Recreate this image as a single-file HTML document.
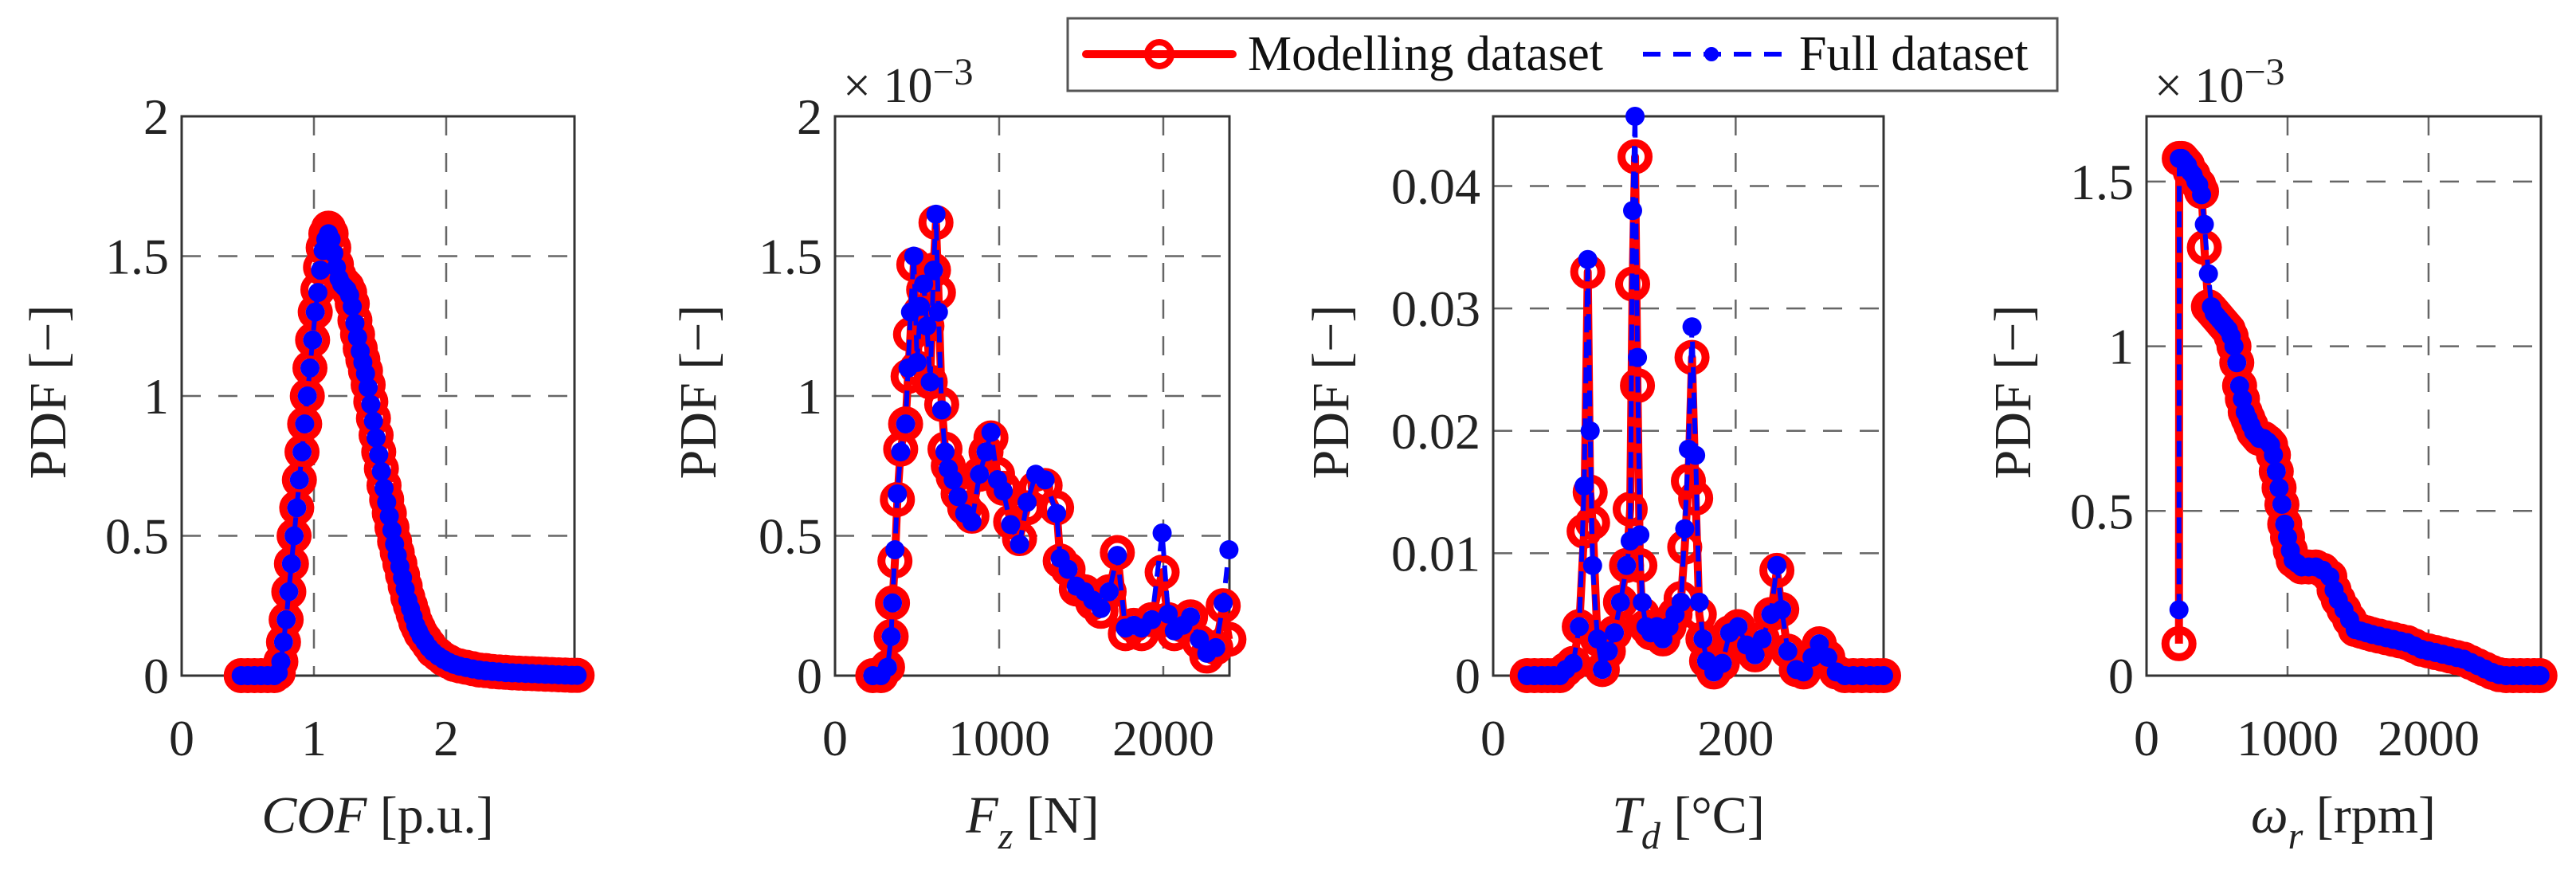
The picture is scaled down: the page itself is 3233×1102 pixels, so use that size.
<!DOCTYPE html>
<html><head><meta charset="utf-8"><style>
html,body{margin:0;padding:0;background:#fff;}
svg{display:block;}
text{font-family:"Liberation Serif","DejaVu Serif",serif;}
</style></head><body>
<svg id="fig" width="3233" height="1102" viewBox="0 0 3233 1102" xmlns="http://www.w3.org/2000/svg" font-family="Liberation Serif, DejaVu Serif, serif">
<rect x="0" y="0" width="3233" height="1102" fill="#fff"/>
<g id="legend">
  <rect x="1340" y="23" width="1242" height="91" fill="#fff" stroke="#555" stroke-width="3"/>
  <g>
    <line x1="1363" y1="68" x2="1547" y2="68" stroke="#f00" stroke-width="10" stroke-linecap="round"/>
    <circle cx="1455" cy="68" r="15" fill="none" stroke="#f00" stroke-width="8"/>
    <text x="1566" y="88" font-size="62" fill="#111" font-family="Liberation Serif, serif">Modelling dataset</text>
  </g>
  <g>
    <line x1="2062" y1="68" x2="2236" y2="68" stroke="#00f" stroke-width="6" stroke-dasharray="22,16"/>
    <circle cx="2148" cy="68" r="9" fill="#00f"/>
    <text x="2258" y="88" font-size="62" fill="#111" font-family="Liberation Serif, serif">Full dataset</text>
  </g>
</g>
</svg>
<script>
// Panel 1: COF
const cofX = [0.45,0.5,0.55,0.6,0.65,0.7,0.73,0.75,0.77,0.79,0.81,0.83,0.85,0.87,0.89,0.91,0.93,0.95,0.97,0.99,1.01,1.03,1.05,1.07,1.09,1.11,1.13,1.15,1.17,1.19,1.21,1.23,1.25,1.27,1.29,1.31,1.33,1.35,1.37,1.39,1.41,1.43,1.45,1.47,1.49,1.51,1.53,1.55,1.57,1.59,1.61,1.63,1.65,1.67,1.69,1.71,1.73,1.75,1.77,1.79,1.81,1.84,1.87,1.9,1.94,1.98,2.02,2.06,2.1,2.15,2.2,2.25,2.3,2.35,2.4,2.45,2.5,2.55,2.6,2.65,2.7,2.75,2.8,2.85,2.9,2.95,2.99];
const cofModel = [0,0,0,0,0,0,0.01,0.05,0.12,0.2,0.3,0.4,0.5,0.6,0.7,0.8,0.9,1.0,1.1,1.2,1.3,1.38,1.46,1.53,1.58,1.6,1.58,1.53,1.47,1.43,1.41,1.4,1.39,1.37,1.33,1.27,1.22,1.17,1.13,1.09,1.04,0.98,0.92,0.86,0.8,0.74,0.68,0.63,0.58,0.53,0.48,0.44,0.4,0.36,0.32,0.28,0.25,0.22,0.19,0.17,0.15,0.13,0.11,0.09,0.075,0.06,0.05,0.04,0.035,0.03,0.025,0.02,0.018,0.015,0.013,0.012,0.01,0.009,0.008,0.007,0.006,0.005,0.004,0.003,0.002,0.001,0.001];
const cofFull = [0,0,0,0,0,0,0.01,0.05,0.12,0.2,0.3,0.4,0.5,0.6,0.7,0.8,0.9,1.0,1.1,1.2,1.3,1.37,1.45,1.52,1.56,1.58,1.56,1.51,1.46,1.42,1.4,1.39,1.38,1.36,1.32,1.26,1.21,1.16,1.12,1.08,1.03,0.97,0.91,0.85,0.79,0.73,0.67,0.62,0.57,0.52,0.47,0.43,0.39,0.35,0.31,0.27,0.24,0.21,0.18,0.16,0.14,0.12,0.1,0.085,0.07,0.058,0.048,0.04,0.034,0.029,0.024,0.02,0.017,0.015,0.013,0.011,0.01,0.009,0.008,0.007,0.006,0.005,0.004,0.003,0.002,0.001,0.001];
const cofXTicks = [0,1,2];
const cofYTicks = [0,0.5,1,1.5,2];
const cofYLabels = ["0","0.5","1","1.5","2"];
// Panel 2: Fz (x1e-3)
const fzX = [230,280,320,342,350,365,380,400,430,445,460,480,500,520,540,560,580,600,615,630,650,670,690,720,750,790,834,880,920,950,990,1025,1070,1124,1170,1223,1280,1350,1372,1420,1470,1521,1570,1620,1670,1720,1769,1820,1868,1930,1993,2030,2067,2120,2166,2220,2265,2320,2365,2400];
const fzModel = [0,0,0.03,0.14,0.26,0.41,0.63,0.81,0.9,1.07,1.22,1.47,1.1,1.3,1.38,1.25,1.05,1.45,1.62,1.37,0.97,0.81,0.75,0.71,0.65,0.6,0.57,0.72,0.8,0.85,0.72,0.67,0.55,0.49,0.6,0.67,0.68,0.6,0.41,0.38,0.31,0.3,0.26,0.23,0.3,0.44,0.15,0.18,0.15,0.2,0.37,0.2,0.15,0.18,0.21,0.12,0.07,0.1,0.25,0.13];
const fzFull = [0,0,0.03,0.14,0.26,0.45,0.65,0.8,0.9,1.1,1.3,1.5,1.12,1.32,1.4,1.25,1.05,1.45,1.65,1.3,0.95,0.8,0.74,0.7,0.64,0.58,0.55,0.72,0.8,0.87,0.7,0.66,0.54,0.47,0.62,0.72,0.7,0.58,0.42,0.38,0.32,0.3,0.27,0.24,0.3,0.43,0.17,0.18,0.17,0.2,0.51,0.22,0.16,0.18,0.21,0.13,0.08,0.1,0.26,0.45];
const fzXTicks = [0,1000,2000];
const fzYTicks = [0,0.5,1,1.5,2];
const fzYLabels = ["0","0.5","1","1.5","2"];
// Panel 3: Td
const tdX = [28,34,40,45,50,55,60,66,71,75,78,80,82,86,90,95,100,105,110,113,115,117,119,121,123,126,130,135,140,145,150,155,158,161,164,167,170,173,176,182,189,195,202,209,216,222,229,234,238,243,250,256,263,269,276,283,290,297,304,311,317,322];
const tdModel = [0,0,0,0,0,0,0.0005,0.001,0.004,0.0118,0.033,0.015,0.0125,0.003,0.0005,0.002,0.0035,0.006,0.009,0.0136,0.032,0.0424,0.0237,0.009,0.005,0.004,0.0035,0.004,0.003,0.004,0.005,0.0063,0.0105,0.0159,0.026,0.0145,0.005,0.003,0.0012,0.0003,0.001,0.0035,0.004,0.0025,0.0017,0.003,0.005,0.0086,0.0054,0.002,0.0005,0.0003,0.0015,0.0026,0.0015,0.0003,0,0,0,0,0,0];
const tdFull = [0,0,0,0,0,0,0.0005,0.001,0.004,0.0155,0.034,0.02,0.009,0.003,0.0005,0.002,0.0035,0.006,0.009,0.011,0.038,0.0457,0.026,0.0115,0.006,0.004,0.0035,0.004,0.003,0.004,0.005,0.006,0.012,0.0185,0.0285,0.018,0.006,0.003,0.0012,0.0003,0.001,0.0035,0.004,0.0025,0.0017,0.003,0.005,0.009,0.0054,0.002,0.0005,0.0003,0.0015,0.0026,0.0015,0.0003,0,0,0,0,0,0];
const tdXTicks = [0,200];
const tdYTicks = [0,0.01,0.02,0.03,0.04];
const tdYLabels = ["0","0.01","0.02","0.03","0.04"];
// Panel 4: omega_r (x1e-3)
const wrX = [230,232,250,270,290,310,330,350,370,390,410,439,460,480,500,520,540,560,580,600,620,640,660,680,700,720,740,760,780,800,830,860,880,900,920,940,960,980,1000,1020,1040,1070,1100,1150,1200,1250,1300,1330,1360,1400,1440,1480,1520,1560,1600,1650,1700,1750,1800,1850,1900,1950,2000,2050,2100,2150,2200,2250,2300,2350,2400,2450,2500,2550,2600,2650,2700,2750,2790];
const wrModel = [0.097,1.57,1.57,1.56,1.55,1.53,1.52,1.5,1.49,1.47,1.3,1.12,1.11,1.1,1.09,1.08,1.07,1.06,1.05,1.03,1.0,0.95,0.88,0.84,0.8,0.78,0.76,0.74,0.73,0.72,0.72,0.71,0.7,0.67,0.62,0.57,0.52,0.46,0.42,0.38,0.35,0.34,0.33,0.33,0.33,0.32,0.3,0.26,0.23,0.2,0.17,0.14,0.135,0.13,0.125,0.12,0.115,0.11,0.105,0.1,0.09,0.08,0.075,0.07,0.065,0.06,0.055,0.05,0.04,0.03,0.02,0.01,0.003,0,0,0,0,0,0];
const wrFull = [0.2,1.57,1.57,1.56,1.55,1.53,1.52,1.5,1.49,1.46,1.37,1.22,1.12,1.1,1.09,1.08,1.07,1.06,1.05,1.03,1.0,0.95,0.88,0.84,0.8,0.78,0.76,0.74,0.73,0.72,0.72,0.71,0.7,0.67,0.62,0.57,0.52,0.46,0.42,0.38,0.35,0.34,0.33,0.33,0.33,0.32,0.3,0.26,0.23,0.2,0.17,0.14,0.135,0.13,0.125,0.12,0.115,0.11,0.105,0.1,0.09,0.08,0.075,0.07,0.065,0.06,0.055,0.05,0.04,0.03,0.02,0.01,0.003,0,0,0,0,0,0];
const wrXTicks = [0,1000,2000];
const wrYTicks = [0,0.5,1,1.5];
const wrYLabels = ["0","0.5","1","1.5"];

const NS = "http://www.w3.org/2000/svg";
const FONT = "Liberation Serif, DejaVu Serif, serif";
const svg = document.getElementById('fig');
const legend = document.getElementById('legend');
function mk(tag, attrs, parent){
  const e = document.createElementNS(NS, tag);
  for (const k in attrs) e.setAttribute(k, attrs[k]);
  if (tag === 'text') e.setAttribute('font-family', FONT);
  if (parent) parent.appendChild(e); else svg.insertBefore(e, legend);
  return e;
}
const TOP = 146, BOT = 848;
function panel(cfg){
  const g = mk('g', {});
  
  
  const sx = v => cfg.L + (v - cfg.xmin) / (cfg.xmax - cfg.xmin) * (cfg.R - cfg.L);
  const sy = v => BOT - v / cfg.ymax * (BOT - TOP);
  cfg.xt.forEach(t => {
    const x = sx(t);
    if (x > cfg.L + 3 && x < cfg.R - 3) {
      const l = mk('line', {x1:x, y1:TOP, x2:x, y2:BOT, stroke:'#666', 'stroke-width':2.5, 'stroke-dasharray':'24,22'}, g);
      
      
    }
  });
  cfg.yt.forEach(t => {
    const y = sy(t);
    if (y > TOP + 3 && y < BOT - 3) {
      const l = mk('line', {x1:cfg.L, y1:y, x2:cfg.R, y2:y, stroke:'#666', 'stroke-width':2.5, 'stroke-dasharray':'24,22'}, g);
      
      
    }
  });
  const box = mk('rect', {x:cfg.L, y:TOP, width:cfg.R-cfg.L, height:BOT-TOP, fill:'none', stroke:'#333', 'stroke-width':3}, g);
  
  
  cfg.xt.forEach(t => {
    const tx = mk('text', {x:sx(t), y:BOT+100, 'font-size':64, 'text-anchor':'middle', fill:'#222'}, g);
    tx.textContent = String(t);
    
    
  });
  cfg.yt.forEach((t, i) => {
    const tx = mk('text', {x:cfg.L-16, y:sy(t)+22, 'font-size':64, 'text-anchor':'end', fill:'#222'}, g);
    tx.textContent = cfg.yl[i];
    
    
  });
  const yl = mk('text', {x:0, y:0, 'font-size':66, 'text-anchor':'middle', fill:'#222', transform:`translate(${cfg.ylx},492) rotate(-90)`}, g);
  yl.textContent = 'PDF [\u2212]';
  
  
  const xl = mk('text', {x:cfg.xlx, y:1045, 'font-size':66, 'text-anchor':'middle', fill:'#222'}, g);
  xl.innerHTML = cfg.xlabel;
  
  
  if (cfg.exp) {
    const ex = mk('text', {x:cfg.L+10, y:128, 'font-size':62, fill:'#222'}, g);
    ex.innerHTML = '\u00d7 10<tspan dy="-22" font-size="48">\u22123</tspan>';
    
    
  }
  const ptsM = cfg.x.map((v,i) => sx(v)+','+sy(cfg.m[i])).join(' ');
  const ptsF = cfg.x.map((v,i) => sx(v)+','+sy(cfg.f[i])).join(' ');
  const gm = mk('g', {}, g);
  
  
  mk('polyline', {points:ptsM, fill:'none', stroke:'#f00', 'stroke-width':10, 'stroke-linejoin':'round'}, gm);
  cfg.x.forEach((v,i) => {
    const c = mk('circle', {cx:sx(v), cy:sy(cfg.m[i]), r:17, fill:'none', stroke:'#f00', 'stroke-width':10}, gm);
    
    
  });
  const gf = mk('g', {}, g);
  
  
  mk('polyline', {points:ptsF, fill:'none', stroke:'#00f', 'stroke-width':6, 'stroke-dasharray':'20,12'}, gf);
  cfg.x.forEach((v,i) => {
    const c = mk('circle', {cx:sx(v), cy:sy(cfg.f[i]), r:12, fill:'#00f'}, gf);
    
    
  });
}
panel({name:'cof', L:228, R:721, xmin:0, xmax:2.97, ymax:2, x:cofX, m:cofModel, f:cofFull, xt:cofXTicks, yt:cofYTicks, yl:cofYLabels, ylx:82, xlx:474, xlabel:'<tspan font-style="italic">COF</tspan> [p.u.]'});
panel({name:'fz', L:1048, R:1543, xmin:0, xmax:2403, ymax:2, x:fzX, m:fzModel, f:fzFull, xt:fzXTicks, yt:fzYTicks, yl:fzYLabels, ylx:898, xlx:1296, exp:true, xlabel:'<tspan font-style="italic">F</tspan><tspan font-style="italic" font-size="48" dy="20">z</tspan><tspan dy="-20"> [N]</tspan>'});
panel({name:'td', L:1874, R:2364, xmin:0, xmax:322, ymax:0.0457, x:tdX, m:tdModel, f:tdFull, xt:tdXTicks, yt:tdYTicks, yl:tdYLabels, ylx:1692, xlx:2119, xlabel:'<tspan font-style="italic">T</tspan><tspan font-style="italic" font-size="48" dy="20">d</tspan><tspan dy="-20"> [\u00b0C]</tspan>'});
panel({name:'wr', L:2694, R:3189, xmin:0, xmax:2797, ymax:1.698, x:wrX, m:wrModel, f:wrFull, xt:wrXTicks, yt:wrYTicks, yl:wrYLabels, ylx:2548, xlx:2941, exp:true, xlabel:'<tspan font-style="italic">\u03c9</tspan><tspan font-style="italic" font-size="48" dy="20">r</tspan><tspan dy="-20"> [rpm]</tspan>'});
</script>
</body></html>
